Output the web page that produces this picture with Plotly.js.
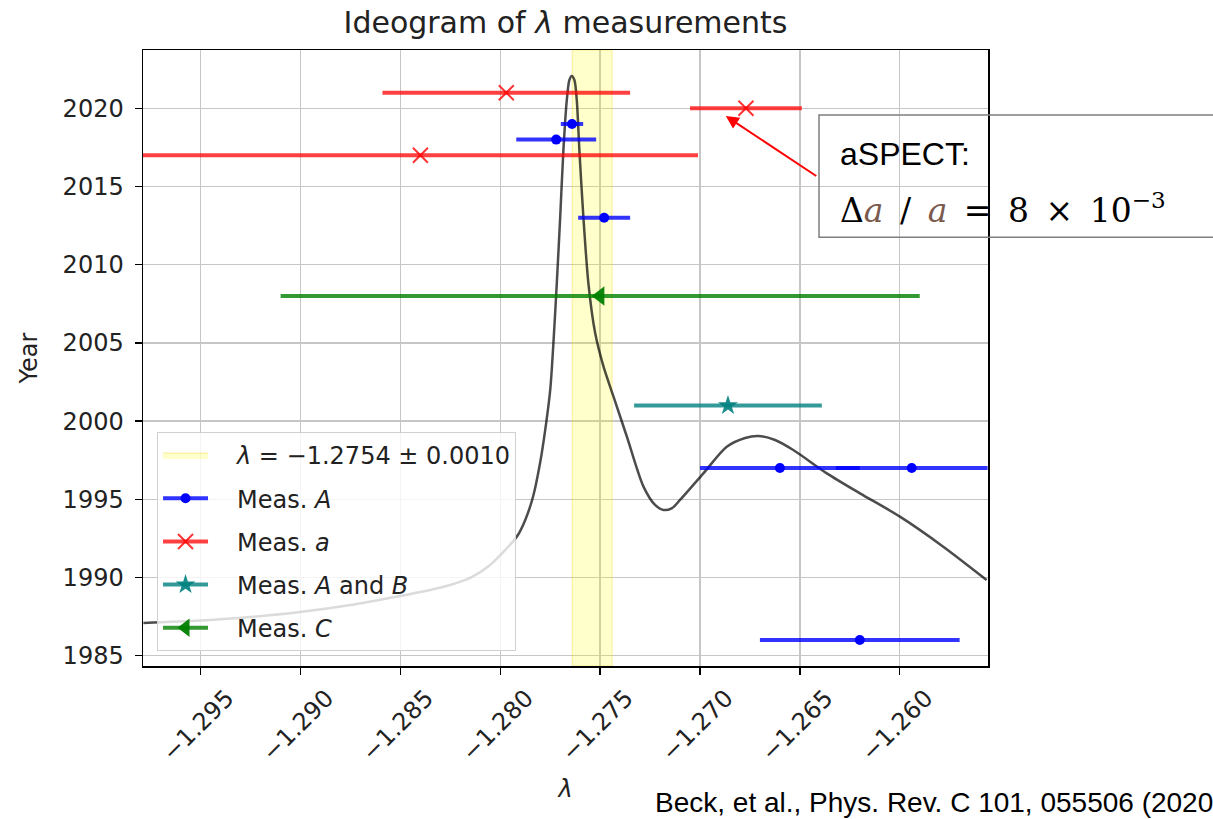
<!DOCTYPE html>
<html><head><meta charset="utf-8">
<script src="https://cdn.plot.ly/plotly-3.0.1.min.js"></script>
<style>html,body{margin:0;padding:0;background:#fff}#chart{width:1213px;height:819px}</style>
</head><body><div id="chart"></div>
<script>
// ---- data ----
const blueYears  = [2019, 2018, 2013, 1997, 1997, 1986];
const blueLambda = [-1.27641, -1.2772, -1.2748, -1.266, -1.2594, -1.262];
const blueErr    = [0.00056, 0.0020, 0.0013, 0.004, 0.0038, 0.005];

const redYears   = [2021, 2020, 2017];
const redLambda  = [-1.2797, -1.2677, -1.2840];
const redErr     = [0.0062, 0.0028, 0.0139];

const tealYears  = [2001];
const tealLambda = [-1.2686];
const tealErr    = [0.0047];

const greenYears  = [2008];
const greenLambda = [-1.275];
const greenErr    = [0.016];

const bandCenter = -1.2754;
const bandHalf   = 0.0010;

// ideogram curve (lambda, height on the year scale)
const curveLambda = [-1.29787,-1.29502,-1.29252,-1.29002,-1.28751,-1.28501,-1.28351,-1.28251,-1.28151,-1.28051,-1.27975,-1.27915,-1.27875,-1.27835,-1.27800,-1.27775,-1.27750,-1.27734,-1.27717,-1.27700,-1.27684,-1.27667,-1.27654,-1.27642,-1.27629,-1.27617,-1.27604,-1.27584,-1.27559,-1.27525,-1.27483,-1.27433,-1.27366,-1.27283,-1.27225,-1.27183,-1.27140,-1.27100,-1.26983,-1.26866,-1.26774,-1.26708,-1.26624,-1.26533,-1.26365,-1.26199,-1.25999,-1.25782,-1.25565];
const curveYear   = [1987.09,1987.25,1987.47,1987.79,1988.24,1988.82,1989.20,1989.52,1989.97,1990.80,1991.76,1992.65,1993.68,1995.21,1997.38,1999.44,2001.99,2004.99,2008.83,2013.07,2017.33,2020.53,2021.81,2022.07,2021.81,2020.53,2017.33,2013.07,2008.83,2005.63,2003.48,2001.56,1999.00,1995.81,1994.64,1994.32,1994.44,1994.96,1996.66,1998.36,1998.92,1999.05,1998.79,1998.15,1996.66,1995.38,1993.89,1991.97,1989.84];

const xTickVals = [-1.295,-1.290,-1.285,-1.280,-1.275,-1.270,-1.265,-1.260];
const yTickVals = [1985,1990,1995,2000,2005,2010,2015,2020];

const xRange = [-1.29789, -1.25558];
const yRange = [1984.34, 2023.73];

// ---- helpers ----
const PAD = '\u2003';
function gapped(xs, ys, es) {
  const gx = [], gy = [], ge = [];
  xs.forEach((v, i) => { gx.push(v, null); gy.push(ys[i], null); ge.push(es[i], null); });
  return {x: gx, y: gy, e: ge};
}
function meas(xs, ys, es, name, color, lineColor, symbol, size, group, lw) {
  const g = gapped(xs, ys, es);
  return {
    type: 'scatter', mode: 'lines+markers', x: g.x, y: g.y, connectgaps: false,
    name: PAD + name, legendgroup: group,
    line: {color: lineColor, width: 4},
    marker: {symbol: symbol, size: size, color: color, line: {color: color, width: lw || 0}},
    error_x: {type: 'data', array: g.e, visible: true, color: lineColor, thickness: 4, width: 0}
  };
}

const traces = [
  {
    type: 'scatter', mode: 'lines', name: PAD + '<i>λ</i> = −1.2754 ± 0.0010', legendgroup: 'g0',
    x: [bandCenter - bandHalf, bandCenter + bandHalf, bandCenter + bandHalf, bandCenter - bandHalf, bandCenter - bandHalf],
    y: [yRange[0], yRange[0], yRange[1], yRange[1], yRange[0]],
    fill: 'toself', fillcolor: 'rgba(255,255,0,0.2)',
    line: {color: 'rgba(240,200,0,0.35)', width: 1}, hoverinfo: 'skip'
  },
  {
    type: 'scatter', mode: 'lines', x: curveLambda, y: curveYear, showlegend: false,
    line: {color: 'rgba(0,0,0,0.7)', width: 2.5, shape: 'spline', smoothing: 0.8}
  },
  meas(blueLambda, blueYears, blueErr, 'Meas. <i>A</i>', 'rgb(0,0,255)', 'rgba(0,0,255,0.8)', 'circle', 10, 'g1'),
  meas(redLambda, redYears, redErr, 'Meas. <i>a</i>', 'rgba(255,0,0,0.8)', 'rgba(255,0,0,0.75)', 'x-thin-open', 15, 'g2', 2),
  meas(tealLambda, tealYears, tealErr, 'Meas. <i>A</i> and <i>B</i>', 'rgba(0,128,128,0.9)', 'rgba(0,128,128,0.8)', 'star', 15, 'g3'),
  meas(greenLambda, greenYears, greenErr, 'Meas. <i>C</i>', 'rgba(0,128,0,0.95)', 'rgba(0,128,0,0.8)', 'triangle-left', 17, 'g4')
];

const FS = 24;
const axisCommon = {
  showline: true, mirror: true, linecolor: '#000', linewidth: 1.5,
  ticks: 'outside', ticklen: 7, tickwidth: 1.5, tickcolor: '#000',
  showgrid: true, gridcolor: '#c6c6c6', gridwidth: 1.5, zeroline: false,
  tickfont: {family: 'DejaVu Sans', size: FS, color: '#222'}
};

const layout = {
  width: 1213, height: 819,
  margin: {l: 143, r: 225, t: 50, b: 153},
  paper_bgcolor: '#fff', plot_bgcolor: '#fff',
  font: {family: 'DejaVu Sans', color: '#222'},
  title: {text: 'Ideogram of <i>λ</i> measurements', font: {family: 'DejaVu Sans', size: 30, color: '#222'},
          x: 0.5, xref: 'paper', xanchor: 'center', y: 0.973, yref: 'container', yanchor: 'middle'},
  xaxis: Object.assign({}, axisCommon, {
    range: xRange, tickvals: xTickVals, tickformat: '.3f', tickangle: -45, ticklabelshift: 26,
    title: {text: '<i>λ</i>', font: {size: FS, family: 'DejaVu Sans', color: '#222'}, standoff: 14}
  }),
  yaxis: Object.assign({}, axisCommon, {
    range: yRange, tickvals: yTickVals, ticklabelstandoff: 6,
    title: {text: 'Year', font: {size: FS, family: 'DejaVu Sans', color: '#222'}, standoff: 18}
  }),
  showlegend: true,
  legend: {
    x: 0.0166, y: 0.38, xanchor: 'left', yanchor: 'top',
    bgcolor: 'rgba(255,255,255,0.8)', bordercolor: '#d0d0d0', borderwidth: 1,
    font: {family: 'DejaVu Sans', size: FS, color: '#222'},
    traceorder: 'grouped', tracegroupgap: 9, itemwidth: 45
  },
  shapes: [
    {type: 'rect', xref: 'paper', yref: 'paper', x0: 0.8, x1: 1.3, y0: 0.696, y1: 0.8945,
     line: {color: '#7f7f7f', width: 1.5}, fillcolor: 'rgba(0,0,0,0)', layer: 'above'}
  ],
  annotations: [
    {xref: 'x', yref: 'y', x: -1.26871, y: 2019.51, ax: 92, ay: 61, axref: 'pixel', ayref: 'pixel',
     text: '', showarrow: true, arrowhead: 2, arrowsize: 1.3, arrowwidth: 2, arrowcolor: '#ff0000', standoff: 0, startstandoff: 0},
    {xref: 'paper', yref: 'paper', x: 0.8225, y: 0.8304, xanchor: 'left', yanchor: 'middle', showarrow: false,
     text: 'aSPECT:', font: {family: 'Liberation Sans', size: 32, color: '#000'}},
    {xref: 'paper', yref: 'paper', x: 0.8225, y: 0.742, xanchor: 'left', yanchor: 'middle', showarrow: false,
     text: 'Δ<span style="color:#7a5a4c"><i>a</i></span>\u2002/\u2002<span style="color:#7a5a4c"><i>a</i></span>\u2002=\u20028\u2002×\u200210<sup>−3</sup>',
     font: {family: 'DejaVu Serif', size: 33, color: '#000'}},
    {xref: 'paper', yref: 'paper', x: 0.6036, y: -0.2224, xanchor: 'left', yanchor: 'middle', showarrow: false,
     text: 'Beck, et al., Phys. Rev. C 101, 055506 (2020)', font: {family: 'Liberation Sans', size: 28, color: '#000'}}
  ]
};

Plotly.newPlot('chart', traces, layout, {displayModeBar: false, staticPlot: true});
</script>
</body></html>
